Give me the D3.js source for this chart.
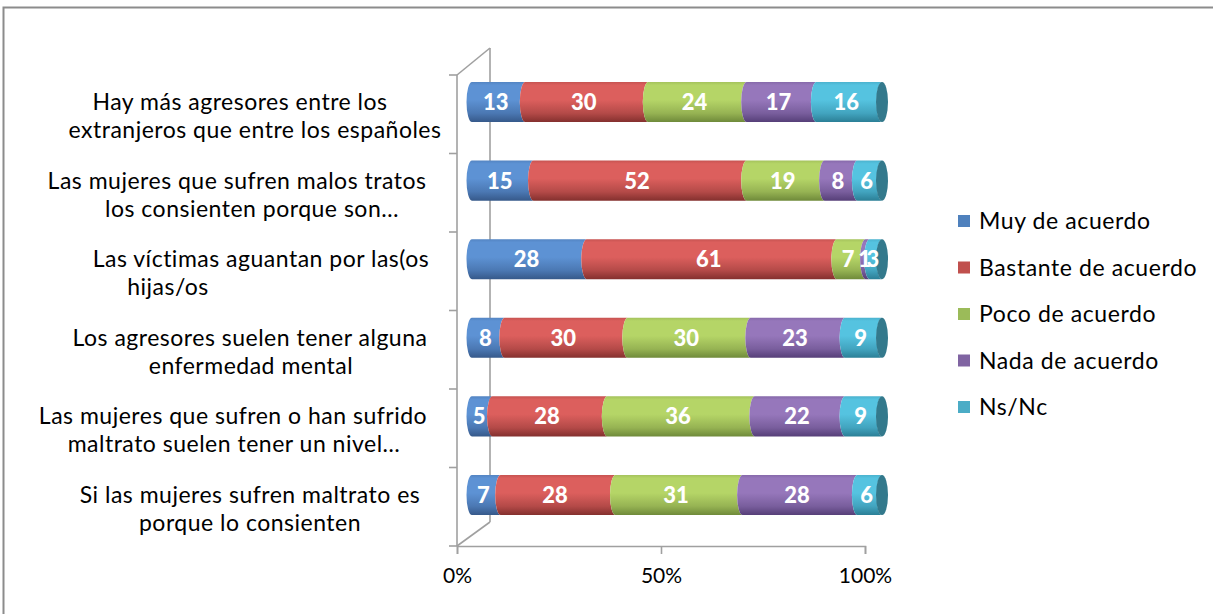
<!DOCTYPE html>
<html>
<head>
<meta charset="utf-8">
<script src="https://cdn.jsdelivr.net/npm/d3@7/dist/d3.min.js"></script>
<style>
  html, body { margin: 0; padding: 0; background: #fff; }
  svg { display: block; }
</style>
</head>
<body>
<svg id="chart" width="1213" height="614"></svg>
<script>
// ---------- DATA ----------
const categories = [
  ["Hay más agresores entre los", "extranjeros que entre los españoles"],
  ["Las mujeres que sufren malos tratos", "los consienten porque son…"],
  ["Las víctimas aguantan por las(os", "hijas/os"],
  ["Los agresores suelen tener alguna", "enfermedad mental"],
  ["Las mujeres que sufren o han sufrido", "maltrato suelen tener un nivel…"],
  ["Si las mujeres sufren maltrato es", "porque lo consienten"]
];
const seriesNames = ["Muy de acuerdo", "Bastante de acuerdo", "Poco de acuerdo", "Nada de acuerdo", "Ns/Nc"];
const muyDeAcuerdo      = [13, 15, 28, 8, 5, 7];
const bastanteDeAcuerdo = [30, 52, 61, 30, 28, 28];
const pocoDeAcuerdo     = [24, 19, 7, 30, 36, 31];
const nadaDeAcuerdo     = [17, 8, 1, 23, 22, 28];
const nsNc              = [16, 6, 3, 9, 9, 6];
const xTicks = [0, 50, 100];

// ---------- STYLE / LAYOUT ----------
const legendColors = ["#4F81BD", "#C0504D", "#9BBB59", "#8064A2", "#4BACC6"];
const bodyLight = ["#5d92d4", "#dc5f5d", "#b5d567", "#9677bb", "#55c3e0"];
const bodyDark  = ["#36598a", "#84302e", "#6f8a3a", "#563f78", "#2b7f96"];
const capColor = "#33798c";
const labelNudge = [[-10, 5], [-13, 2], [11, -82], [0, 1], [-17, -16], [0, 0]];
const textFont = "Lato, sans-serif";

const svg = d3.select("#chart");
const seriesValues = [muyDeAcuerdo, bastanteDeAcuerdo, pocoDeAcuerdo, nadaDeAcuerdo, nsNc];

// border
svg.append("path")
  .attr("d", "M3.5,614 L3.5,7.5 L1213,7.5")
  .attr("fill", "none").attr("stroke", "#8c8c8c").attr("stroke-width", 2);

// scales
const xFront = d3.scaleLinear().domain([0, 100]).range([457, 865]);
const xBar = d3.scaleLinear().domain([0, 100]).range([472, 882]);
const yFront = d3.scaleBand().domain(d3.range(categories.length)).range([75, 546]);
const yBar = d3.scaleBand().domain(d3.range(categories.length)).range([62.7, 534.3]).paddingInner(0.49).paddingOuter(0.245);

const axisColor = "#a0a0a0";
// 3D walls
const g3d = svg.append("g").attr("stroke", axisColor).attr("stroke-width", 1.6).attr("fill", "none");
g3d.append("line").attr("x1", 490).attr("y1", 48).attr("x2", 490).attr("y2", 522);
g3d.append("line").attr("x1", xFront(0)).attr("y1", 75).attr("x2", 490).attr("y2", 48);
g3d.append("line").attr("x1", xFront(0)).attr("y1", 546).attr("x2", 490).attr("y2", 522);
// front vertical axis with ticks at band boundaries
g3d.append("line").attr("x1", xFront(0)).attr("y1", 75).attr("x2", xFront(0)).attr("y2", 546);
const bounds = d3.range(categories.length + 1).map(i => i < categories.length ? yFront(i) : yFront.range()[1]);
g3d.selectAll("line.ytick").data(bounds).join("line").attr("class", "ytick")
  .attr("x1", xFront(0) - 8).attr("x2", xFront(0)).attr("y1", d => d).attr("y2", d => d);

// x axis
const xAxis = d3.axisBottom(xFront).tickValues(xTicks).tickFormat(d => d + "%").tickSize(8).tickPadding(14);
const gx = svg.append("g").attr("transform", "translate(0,546)").call(xAxis);
gx.select(".domain").attr("stroke", axisColor).attr("stroke-width", 1.6);
gx.selectAll(".tick line").attr("stroke", axisColor).attr("stroke-width", 1.6);
gx.selectAll(".tick text").attr("fill", "#000").style("font-family", textFont).style("font-size", "21px");

// gradients
const defs = svg.append("defs");
seriesNames.forEach((n, i) => {
  const gr = defs.append("linearGradient").attr("id", "grad" + i).attr("x1", 0).attr("y1", 0).attr("x2", 0).attr("y2", 1);
  gr.append("stop").attr("offset", 0).attr("stop-color", d3.interpolateRgb(bodyLight[i], bodyDark[i])(0.25));
  gr.append("stop").attr("offset", 0.08).attr("stop-color", bodyLight[i]);
  gr.append("stop").attr("offset", 0.45).attr("stop-color", bodyLight[i]);
  gr.append("stop").attr("offset", 0.78).attr("stop-color", d3.interpolateRgb(bodyLight[i], bodyDark[i])(0.45));
  gr.append("stop").attr("offset", 1).attr("stop-color", bodyDark[i]);
});

// stacked data
const rows = categories.map((c, r) => {
  let acc = 0;
  return seriesValues.map((vals, s) => {
    const v = vals[r];
    const seg = { row: r, s, v, x0: acc, x1: acc + v };
    acc += v;
    return seg;
  });
});

const rx = 5.5;
const bars = svg.append("g");
rows.forEach((segs, r) => {
  const top = yBar(r), h = yBar.bandwidth(), bot = top + h, ry = h / 2;
  const gRow = bars.append("g");
  gRow.selectAll("path.seg").data(segs).join("path").attr("class", "seg")
    .attr("fill", d => `url(#grad${d.s})`)
    .attr("d", d => {
      const a = xBar(d.x0), b = xBar(d.x1);
      return `M${a},${top} L${b},${top} A${rx},${ry} 0 0 0 ${b},${bot} L${a},${bot} A${rx},${ry} 0 0 1 ${a},${top} Z`;
    });
  // end cap
  const last = segs[segs.length - 1];
  gRow.append("ellipse")
    .attr("cx", xBar(last.x1)).attr("cy", top + ry).attr("rx", rx + 0.5).attr("ry", ry)
    .attr("fill", capColor);
  // labels
  gRow.selectAll("text.val").data(segs).join("text").attr("class", "val")
    .attr("x", d => (xBar(d.x0) + xBar(d.x1)) / 2 - 3)
    .attr("y", top + ry)
    .attr("dy", "0.36em")
    .attr("text-anchor", "middle")
    .attr("fill", "#fff")
    .style("font-family", textFont)
    .style("font-weight", "900")
    .style("font-size", "22px")
    .text(d => d.v);
});

// category labels
const gCat = svg.append("g").style("font-family", textFont).style("font-size", "23px")
  .style("letter-spacing", "0.5px").attr("fill", "#000");
categories.forEach((lines, r) => {
  const cy = yBar(r) + yBar.bandwidth() / 2;
  lines.forEach((line, li) => {
    gCat.append("text")
      .attr("x", 250 + labelNudge[r][li])
      .attr("y", cy + li * 28)
      .attr("dy", "0.35em")
      .attr("text-anchor", "middle")
      .text(line);
  });
});

// legend
const legY = d3.scalePoint().domain(seriesNames).range([221, 407]);
const gLeg = svg.append("g");
const li = gLeg.selectAll("g").data(seriesNames).join("g").attr("transform", d => `translate(958,${legY(d)})`);
li.append("rect").attr("x", 0).attr("y", -6).attr("width", 12).attr("height", 12).attr("fill", (d, i) => legendColors[i]);
li.append("text").attr("x", 21).attr("y", 0).attr("dy", "0.35em")
  .style("font-family", textFont).style("font-size", "23px").style("letter-spacing", "0.6px").attr("fill", "#000")
  .text(d => d);
</script>
</body>
</html>
